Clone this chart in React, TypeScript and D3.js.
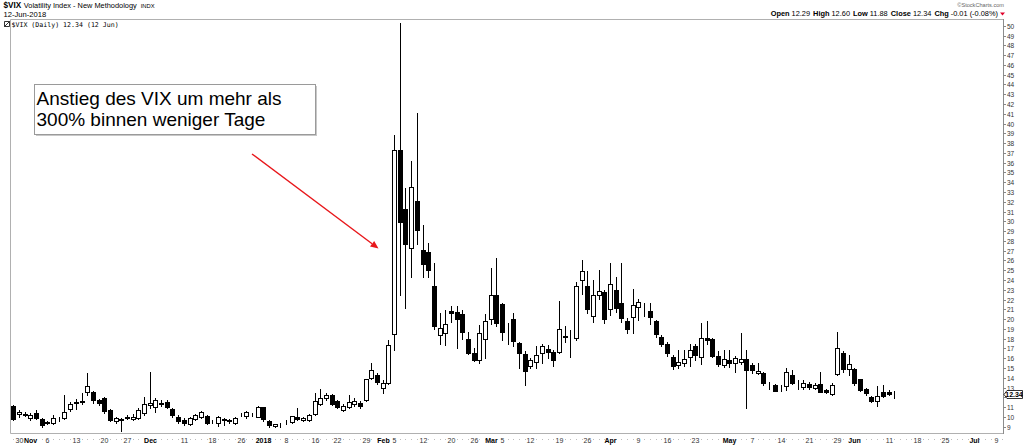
"use client";

import { useRef, useEffect } from "react";
import * as d3 from "d3";

// trading sessions shown as candles (Oct 27 2017 .. Jun 12 2018)
const sessionMonths: [string, number[]][] = [
  ["2017-10", [27, 30, 31]],
  ["2017-11", [1, 2, 3, 6, 7, 8, 9, 10, 13, 14, 15, 16, 17, 20, 21, 22, 24, 27, 28, 29, 30]],
  ["2017-12", [1, 4, 5, 6, 7, 8, 11, 12, 13, 14, 15, 18, 19, 20, 21, 22, 26, 27, 28, 29]],
  ["2018-01", [2, 3, 4, 5, 8, 9, 10, 11, 12, 16, 17, 18, 19, 22, 23, 24, 25, 26, 29, 30, 31]],
  ["2018-02", [1, 2, 5, 6, 7, 8, 9, 12, 13, 14, 15, 16, 20, 21, 22, 23, 26, 27, 28]],
  ["2018-03", [1, 2, 5, 6, 7, 8, 9, 12, 13, 14, 15, 16, 19, 20, 21, 22, 23, 26, 27, 28, 29]],
  ["2018-04", [2, 3, 4, 5, 6, 9, 10, 11, 12, 13, 16, 17, 18, 19, 20, 23, 24, 25, 26, 27, 30]],
  ["2018-05", [1, 2, 3, 4, 7, 8, 9, 10, 11, 14, 15, 16, 17, 18, 21, 22, 23, 24, 25, 29, 30, 31]],
  ["2018-06", [1, 4, 5, 6, 7, 8, 11, 12]],
];

// empty sessions kept on the axis to the right
const futureMonths: [string, number[]][] = [
  ["2018-06", [13, 14, 15, 18, 19, 20, 21, 22, 25, 26, 27, 28, 29]],
  ["2018-07", [2, 3, 5, 6, 9, 10]],
];

const openVals = [
  11.1, 10.25, 10.3,
  9.85, 10.4, 9.75, 9.5, 9.4, 9.82, 9.9, 10.8, 11.42, 11.52, 12.5, 12.5, 11.7, 11.95, 10.7, 9.55, 9.8, 10.0, 9.75, 9.9, 10.4,
  11.2, 11.05, 11.4, 11.55, 10.85, 10.0, 9.7, 9.3, 9.8, 10.0, 10.1, 9.58, 9.4, 9.75, 9.66, 9.4, 10.3, 10.05, 10.22, 10.0,
  11.0, 9.6, 9.1, 9.25, 9.5, 9.45, 10.0, 9.7, 9.7, 10.3, 11.3, 11.95, 12.2, 11.6, 10.7, 11.0, 11.35, 11.45, 11.7, 14.0, 14.3,
  12.95, 13.5, 18.44, 37.32, 31.3, 27.3, 32.1, 27.1, 26.9, 23.4, 18.4, 18.6, 20.8, 20.7, 20.5, 17.95, 16.5, 15.8, 18.0,
  20.0, 22.5, 21.5, 18.4, 20.0, 17.6, 16.4, 15.2, 15.65, 16.5, 16.95, 16.6, 16.6, 18.3, 17.9, 18.05, 23.95, 23.4, 20.3, 22.45, 22.8,
  21.0, 23.0, 21.6, 19.8, 20.25, 21.2, 20.5, 20.85, 19.85, 18.2, 17.5, 16.15, 15.3, 15.5, 16.1, 17.25, 16.1, 18.03, 18.0, 16.2, 15.3,
  15.8, 15.5, 15.65, 15.9, 15.3, 14.5, 14.5, 13.3, 13.25, 12.95, 13.15, 14.3, 13.45, 13.1, 13.35, 12.95, 13.4, 12.75, 12.35, 14.4, 16.55, 14.9,
  14.9, 13.85, 12.85, 12.0, 11.65, 12.55, 12.5, 12.29,
];

const highVals = [
  11.2, 10.7, 10.45,
  10.35, 10.7, 9.9, 9.6, 10.2, 10.0, 12.2, 11.55, 11.8, 12.4, 14.51, 12.6, 11.8, 12.0, 10.8, 10.0, 9.9, 10.2, 10.25, 10.95, 12.0,
  14.58, 11.9, 11.7, 11.7, 10.95, 10.15, 9.85, 10.0, 10.3, 10.6, 10.2, 9.7, 10.1, 9.85, 9.8, 9.95, 10.4, 10.6, 10.4, 11.1,
  11.05, 9.7, 9.3, 9.4, 9.7, 10.1, 10.9, 10.0, 10.3, 12.45, 12.8, 12.4, 12.3, 11.7, 11.3, 12.2, 11.9, 11.6, 13.9, 15.5, 14.5,
  13.8, 17.9, 38.8, 50.3, 33.4, 36.17, 41.06, 29.6, 27.75, 25.7, 20.6, 20.9, 21.35, 21.3, 20.9, 18.7, 17.0, 19.4, 20.5,
  25.2, 26.2, 21.6, 19.6, 20.6, 17.7, 16.7, 16.0, 17.2, 17.5, 17.4, 16.85, 21.8, 19.25, 18.85, 23.8, 26.05, 24.9, 24.0, 25.0, 23.0,
  25.7, 24.35, 25.7, 20.1, 23.05, 22.1, 21.6, 21.6, 19.9, 18.4, 17.7, 16.3, 16.85, 16.8, 17.5, 17.5, 19.6, 19.85, 18.05, 16.7, 16.8,
  16.8, 16.2, 18.6, 16.85, 15.5, 15.55, 14.6, 13.6, 13.4, 13.3, 15.0, 14.8, 13.8, 13.8, 13.6, 13.5, 14.6, 12.9, 13.5, 18.7, 16.7, 16.3,
  15.0, 13.9, 12.95, 12.1, 13.15, 13.25, 12.7, 12.6,
];

const lowVals = [
  9.7, 10.0, 10.05,
  9.7, 9.75, 9.0, 9.3, 9.3, 9.55, 9.8, 10.55, 10.8, 11.3, 12.2, 11.4, 11.2, 10.4, 9.55, 9.4, 8.56, 9.8, 9.65, 9.8, 10.2,
  10.9, 10.5, 11.1, 10.9, 10.0, 9.4, 9.2, 9.2, 9.7, 9.85, 9.3, 9.4, 9.1, 9.2, 9.4, 9.3, 10.1, 9.9, 10.1, 9.95,
  9.6, 9.0, 8.92, 9.0, 9.3, 9.4, 9.7, 9.6, 9.6, 10.2, 11.2, 11.75, 11.2, 10.9, 10.6, 10.9, 11.1, 10.9, 11.6, 13.9, 13.4,
  12.4, 13.4, 16.8, 22.42, 21.1, 24.3, 27.7, 24.3, 24.35, 18.97, 17.5, 17.35, 19.75, 17.0, 17.95, 16.4, 15.7, 15.5, 16.0,
  19.5, 19.3, 17.9, 17.45, 17.2, 15.0, 13.3, 14.95, 15.0, 15.5, 16.0, 15.2, 16.5, 17.7, 16.15, 17.9, 22.6, 20.6, 19.75, 22.1, 19.6,
  20.4, 20.75, 19.73, 18.6, 18.6, 19.9, 20.3, 19.5, 18.2, 17.2, 16.2, 14.9, 15.0, 15.2, 15.2, 15.8, 15.4, 17.5, 16.1, 15.2, 15.1,
  15.1, 14.6, 15.4, 10.9, 14.5, 14.4, 13.3, 12.9, 12.6, 12.6, 12.7, 13.35, 12.9, 12.8, 12.8, 12.8, 12.5, 12.45, 12.25, 14.3, 14.6, 14.3,
  13.3, 12.6, 12.2, 11.5, 11.1, 12.0, 12.2, 11.88,
];

const closeVals = [
  9.8, 10.5, 10.18,
  10.2, 9.93, 9.14, 9.4, 9.89, 9.78, 10.5, 11.29, 11.5, 11.59, 13.13, 11.76, 11.43, 10.65, 9.73, 9.88, 9.67, 9.87, 10.03, 10.7, 11.28,
  11.43, 11.68, 11.33, 11.02, 10.16, 9.58, 9.34, 9.92, 10.18, 10.49, 9.42, 9.53, 10.03, 9.72, 9.62, 9.9, 10.25, 10.47, 10.18, 11.04,
  9.77, 9.15, 9.22, 9.22, 9.52, 10.08, 9.82, 9.88, 10.16, 11.66, 11.91, 12.22, 11.27, 11.03, 11.1, 11.47, 11.58, 11.08, 13.84, 14.79, 13.54,
  13.47, 17.31, 37.32, 29.98, 27.73, 33.46, 29.06, 25.61, 24.97, 19.26, 19.13, 19.46, 20.6, 20.02, 18.72, 16.49, 15.8, 18.59, 19.85,
  22.47, 19.59, 18.73, 18.36, 17.76, 16.54, 14.64, 15.78, 16.35, 17.23, 16.59, 15.8, 19.02, 18.2, 17.86, 23.34, 24.87, 21.03, 22.5, 22.87, 19.97,
  23.62, 21.1, 20.06, 18.94, 21.49, 21.77, 20.47, 20.24, 18.49, 17.41, 16.56, 15.25, 15.6, 15.96, 16.88, 16.34, 18.02, 17.84, 16.24, 15.41, 15.93,
  15.49, 15.97, 15.9, 14.77, 14.75, 14.71, 13.42, 13.23, 12.65, 12.93, 14.63, 13.42, 13.43, 13.42, 13.08, 13.22, 12.58, 12.53, 13.22, 17.02, 14.94, 15.43,
  13.46, 12.74, 12.4, 11.64, 12.13, 12.18, 12.35, 12.34,
];

const priceTicks = d3.range(9, 51);

const dateTicks: [string, string, boolean][] = [
  ["2017-10-30", "30", false], ["2017-11-01", "Nov", true], ["2017-11-06", "6", false],
  ["2017-11-13", "13", false], ["2017-11-20", "20", false], ["2017-11-27", "27", false],
  ["2017-12-01", "Dec", true], ["2017-12-11", "11", false], ["2017-12-18", "18", false],
  ["2017-12-26", "26", false], ["2018-01-02", "2018", true], ["2018-01-08", "8", false],
  ["2018-01-16", "16", false], ["2018-01-22", "22", false], ["2018-01-29", "29", false],
  ["2018-02-01", "Feb", true], ["2018-02-05", "5", false], ["2018-02-12", "12", false],
  ["2018-02-20", "20", false], ["2018-02-26", "26", false], ["2018-03-01", "Mar", true],
  ["2018-03-05", "5", false], ["2018-03-12", "12", false], ["2018-03-19", "19", false],
  ["2018-03-26", "26", false], ["2018-04-02", "Apr", true], ["2018-04-09", "9", false],
  ["2018-04-16", "16", false], ["2018-04-23", "23", false], ["2018-05-01", "May", true],
  ["2018-05-07", "7", false], ["2018-05-14", "14", false], ["2018-05-21", "21", false],
  ["2018-05-29", "29", false], ["2018-06-01", "Jun", true], ["2018-06-11", "11", false],
  ["2018-06-18", "18", false], ["2018-06-25", "25", false], ["2018-07-02", "Jul", true],
  ["2018-07-09", "9", false],
];

const lastClose = 12.34;
const noteLines = ["Anstieg des VIX um mehr als", "300% binnen weniger Tage"];

const toDates = (months: [string, number[]][]) =>
  months.flatMap(([m, days]) => days.map((d) => `${m}-${String(d).padStart(2, "0")}`));

const FONT = "'Liberation Sans', Arial, sans-serif";

export default function App() {
  const svgRef = useRef<SVGSVGElement>(null);

  useEffect(() => {
    if (!svgRef.current) return;
    const svg = d3.select(svgRef.current);
    svg.selectAll("*").remove();

    const width = 1024;
    const height = 446;
    const left = 10;
    const right = 1003;
    const top = 19;
    const bottom = 433;

    const sessionDates = toDates(sessionMonths);
    const axisDates = sessionDates.concat(toDates(futureMonths));

    const x = d3.scaleBand<string>().domain(axisDates).range([10.5, 1005]);
    const cx = (d: string) => Math.round((x(d) ?? 0) + x.bandwidth() / 2);
    const y = d3.scaleLinear().domain([8.35, 50.69]).range([bottom, top]);

    svg.attr("viewBox", `0 0 ${width} ${height}`).attr("width", width).attr("height", height);
    svg.append("rect").attr("width", width).attr("height", height).attr("fill", "#fff");

    // header
    const head = svg.append("g").attr("font-family", FONT).attr("fill", "#000");
    const t1 = head.append("text").attr("x", 3.5).attr("y", 7.5);
    t1.append("tspan").attr("font-weight", "bold").attr("font-size", 8.2).text("$VIX");
    t1.append("tspan").attr("font-size", 7.4).attr("dx", 2.5).text("Volatility Index - New Methodology");
    t1.append("tspan").attr("font-size", 5.8).attr("dx", 4).text("INDX");
    head.append("text").attr("x", 3.5).attr("y", 16.5).attr("font-size", 7.6).text("12-Jun-2018");

    head.append("text").attr("x", 1004).attr("y", 7).attr("font-size", 5.6)
      .attr("text-anchor", "end").attr("fill", "#666").text("\u00a9StockCharts.com");

    const ohlc = head.append("text").attr("x", 998).attr("y", 16.3).attr("font-size", 7.4)
      .attr("text-anchor", "end");
    const parts: [string, string][] = [
      ["Open", "12.29"], ["High", "12.60"], ["Low", "11.88"], ["Close", "12.34"], ["Chg", "-0.01 (-0.08%)"],
    ];
    parts.forEach(([k, v], i) => {
      ohlc.append("tspan").attr("font-weight", "bold").attr("dx", i === 0 ? 0 : 3).text(k);
      ohlc.append("tspan").attr("dx", 2).text(v);
    });
    head.append("path").attr("d", "M1000,12.5 L1005,12.5 L1002.5,15.5 Z").attr("fill", "#e0002a");

    // frame
    svg.append("path")
      .attr("d", `M${right + 0.5},${top + 0.5} H${left + 0.5} V${bottom + 0.5} H${right + 0.5}`)
      .attr("fill", "none").attr("stroke", "#b0b0b0");
    svg.append("line").attr("x1", right + 0.5).attr("x2", right + 0.5)
      .attr("y1", top).attr("y2", bottom + 1).attr("stroke", "#8c8c8c");

    // legend
    const lg = svg.append("g");
    lg.append("path").attr("d", "M4.5,21.5 h5 v5 h-5 z M4.5,26.5 L9.5,21.5").attr("fill", "none")
      .attr("stroke", "#000").attr("stroke-width", 0.8);
    lg.append("text").attr("x", 11.5).attr("y", 27).attr("font-family", "'DejaVu Sans Mono', monospace")
      .attr("font-size", 6.6).attr("fill", "#000").text("$VIX (Daily) 12.34 (12 Jun)");

    // right axis
    const ya = svg.append("g").attr("font-family", FONT).attr("font-size", 6.5).attr("fill", "#333");
    priceTicks.forEach((v) => {
      const yy = Math.round(y(v)) + 0.5;
      ya.append("line").attr("x1", right).attr("x2", right + 3).attr("y1", yy).attr("y2", yy)
        .attr("stroke", "#888");
      if (v !== 12) {
        ya.append("text").attr("x", right + 4).attr("y", yy + 2.3).text(v);
      }
    });

    // bottom axis
    const xa = svg.append("g").attr("font-family", FONT).attr("font-size", 7).attr("fill", "#333");
    const labelled = new Set(dateTicks.map((d) => d[0]));
    axisDates.forEach((d) => {
      if (!labelled.has(d)) {
        xa.append("rect").attr("x", cx(d)).attr("y", 439).attr("width", 1).attr("height", 1)
          .attr("fill", "#bdbdbd");
      }
    });
    dateTicks.forEach(([d, label, bold]) => {
      xa.append("text").attr("x", cx(d) + 0.5).attr("y", 443).attr("text-anchor", "middle")
        .attr("font-weight", bold ? "bold" : "normal").attr("fill", bold ? "#000" : "#333")
        .text(label);
    });

    // candles
    const candles = sessionDates.map((d, i) => ({
      date: d, o: openVals[i], h: highVals[i], l: lowVals[i], c: closeVals[i],
    }));
    const cg = svg.append("g");
    candles.forEach((k) => {
      const xc = cx(k.date);
      cg.append("line").attr("x1", xc + 0.5).attr("x2", xc + 0.5)
        .attr("y1", Math.round(y(k.h))).attr("y2", Math.round(y(k.l)) + 1)
        .attr("stroke", "#000");
      const yTop = Math.round(y(Math.max(k.o, k.c)));
      const yBot = Math.round(y(Math.min(k.o, k.c)));
      cg.append("rect").attr("x", xc - 1.5).attr("y", yTop + 0.5).attr("width", 4)
        .attr("height", Math.max(yBot - yTop, 0))
        .attr("fill", k.c >= k.o ? "#fff" : "#000").attr("stroke", "#000");
    });

    // last price tag
    const ly = Math.round(y(lastClose)) + 0.5;
    svg.append("path")
      .attr("d", `M${right + 1},${ly} L${right + 4},${ly - 4} H1022.5 V${ly + 4} H${right + 4} Z`)
      .attr("fill", "#fff").attr("stroke", "#000").attr("stroke-width", 0.8);
    svg.append("text").attr("x", 1014).attr("y", ly + 2.5).attr("text-anchor", "middle")
      .attr("font-family", FONT).attr("font-size", 7).attr("font-weight", "bold").text(lastClose.toFixed(2));

    // annotation
    const note = svg.append("g");
    note.append("rect").attr("x", 36).attr("y", 86).attr("width", 281).attr("height", 50).attr("fill", "#c8c8c8");
    note.append("rect").attr("x", 34.5).attr("y", 84.5).attr("width", 281).attr("height", 50)
      .attr("fill", "#fff").attr("stroke", "#9a9a9a");
    noteLines.forEach((line, i) => {
      note.append("text").attr("x", 36.5).attr("y", 104.5 + i * 21.5).attr("font-family", FONT)
        .attr("font-size", 19).attr("fill", "#000").text(line);
    });

    // arrow
    const [ax1, ay1, ax2, ay2] = [252, 154, 378.5, 248.5];
    const ang = Math.atan2(ay2 - ay1, ax2 - ax1);
    const hl = 8;
    const hw = 3.5;
    const bx = ax2 - hl * Math.cos(ang);
    const by = ay2 - hl * Math.sin(ang);
    svg.append("line").attr("x1", ax1).attr("y1", ay1).attr("x2", bx).attr("y2", by)
      .attr("stroke", "#e8171b").attr("stroke-width", 1.4);
    svg.append("path")
      .attr("d", `M${ax2},${ay2} L${bx + hw * Math.sin(ang)},${by - hw * Math.cos(ang)} L${bx - hw * Math.sin(ang)},${by + hw * Math.cos(ang)} Z`)
      .attr("fill", "#e8171b");
  }, []);

  return (
    <div style={{ position: "absolute", left: 0, top: 0, width: 1024, height: 446 }}>
      <svg ref={svgRef} style={{ display: "block" }} />
    </div>
  );
}
